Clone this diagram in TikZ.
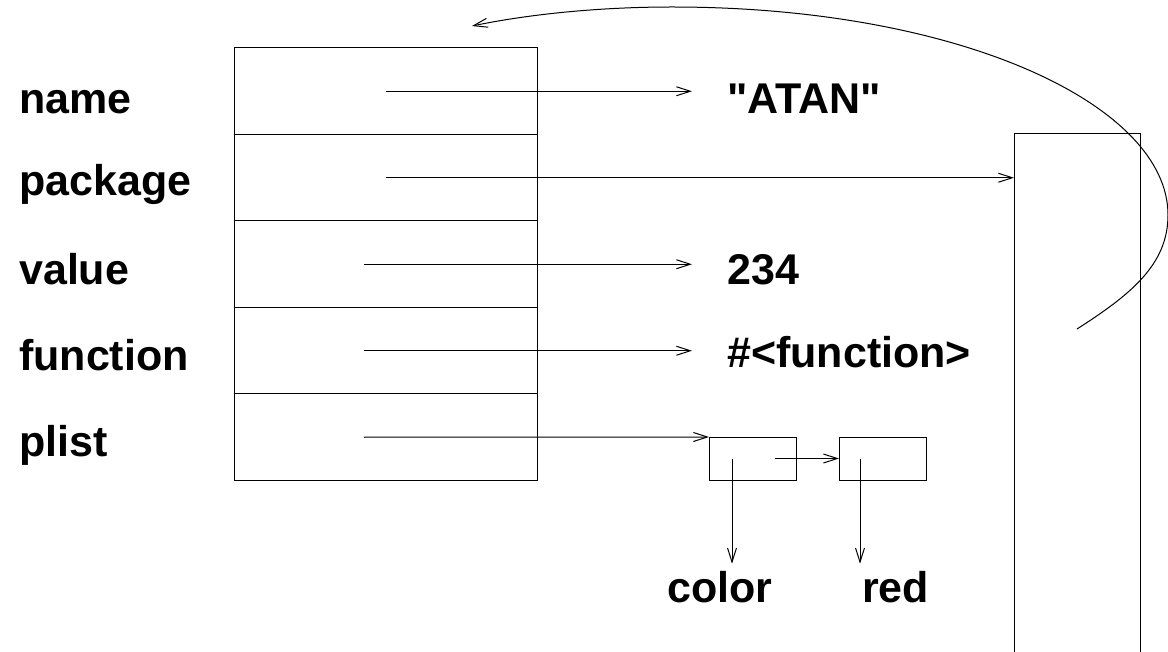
\documentclass[tikz,border=0pt]{standalone}
\usepackage{fontspec}
\setmainfont{Liberation Sans}[Ligatures=TeXOff]
\usetikzlibrary{positioning, arrows.meta}

\begin{document}
\begin{tikzpicture}[
    x=1pt, y=-1pt,
    cellstyle/.style={
        draw, line width=1pt, outer sep=0pt, inner sep=0pt,
        minimum width=303pt, minimum height=86.5pt,
    },
    consstyle/.style={
        draw, line width=1pt, outer sep=0pt, inner sep=0pt,
        minimum width=87pt, minimum height=43pt,
    },
    labelstyle/.style={font=\fontsize{43}{43}\selectfont\bfseries, inner sep=0pt, anchor=base west},
    arrowstyle/.style={-{Straight Barb[length=14pt,width=9pt]}, line width=1pt}
]
\useasboundingbox (0,0) rectangle (1168,652);

% Symbol cells
\node[cellstyle, anchor=north west] (name) at (234,48) {};
\node[cellstyle, below=0pt of name] (package) {};
\node[cellstyle, below=0pt of package] (value) {};
\node[cellstyle, below=0pt of value] (function) {};
\node[cellstyle, below=0pt of function] (plist) {};

% Slot labels
\node[labelstyle] (lname) at (19,114) {name};
\node[labelstyle] (lpackage) at (19,196) {package};
\node[labelstyle] (lvalue) at (19,285) {value};
\node[labelstyle] (lfunction) at (19,371) {function};
\node[labelstyle] (lplist) at (19,456) {plist};

% Contents
\node[labelstyle] (atan) at (727,114) {"ATAN"};
\node[labelstyle] (num) at (727,285) {234};
\node[labelstyle] (fun) at (727,368) {\#<function>};

% Package box
\node[draw, line width=1pt, outer sep=0pt, anchor=north west,
      minimum width=126pt, minimum height=530pt] (pkgbox) at (1014,134) {};

% Property list
\node[consstyle, anchor=north west] (cons1) at (709,437) {};
\node[consstyle, right=43pt of cons1] (cons2) {};
\node[labelstyle] (color) at (667,602) {color};
\node[labelstyle] (red) at (862,602) {red};

% Arrows
\coordinate (vstart) at ([xshift=-21.5pt]value.center);
\coordinate (fstart) at ([xshift=-21.5pt]function.center);
\coordinate (pstart) at ([xshift=-21.5pt]plist.center);
\coordinate (c1) at ([xshift=-20.5pt]cons1.center);
\coordinate (c2) at ([xshift=-22.5pt]cons2.center);

\draw[arrowstyle, shorten >=35pt] (name.center) -- (name.center -| atan.west);
\draw[arrowstyle] (package.center) -- (package.center -| pkgbox.west);
\draw[arrowstyle, shorten >=35pt] (vstart) -- (vstart -| num.west);
\draw[arrowstyle, shorten >=35pt] (fstart) -- (fstart -| fun.west);
\draw[arrowstyle] (pstart) -- (cons1.north west);
\draw[arrowstyle] ([xshift=22.5pt]cons1.center) -- (cons2.west);
\draw[arrowstyle, shorten >=7pt] (c1) -- (c1 |- color.north);
\draw[arrowstyle, shorten >=7pt] (c2) -- (c2 |- red.north);

% Back pointer from the package
\coordinate (loopstart) at (1077,329);
\coordinate (loopend) at (472,26);
\draw[arrowstyle] (loopstart) .. controls (1130,295) and (1168,265) .. (1168,215)
    .. controls (1168,105) and (960,7) .. (672,7)
    .. controls (600,7) and (530,14) .. (loopend);

\end{tikzpicture}
\end{document}
